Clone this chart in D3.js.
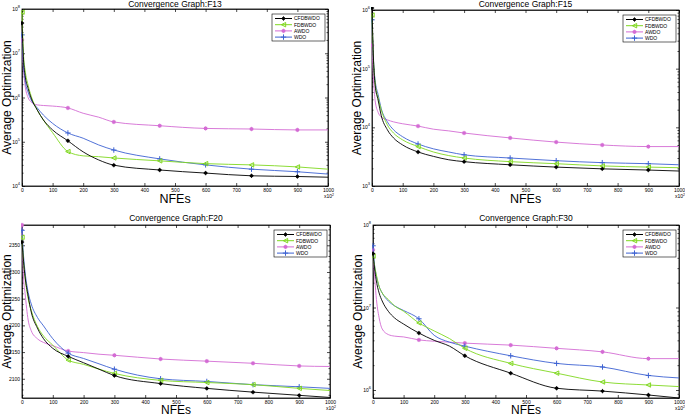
<!DOCTYPE html>
<html><head><meta charset="utf-8">
<script src="https://cdn.jsdelivr.net/npm/d3@7"></script>
<style>body{margin:0;background:#fff}svg{display:block}text{font-family:"Liberation Sans",Arial,sans-serif}</style>
</head><body>
<svg id="c" width="685" height="417"></svg>
<script>
const seriesNames = ["CFDBWDO","FDBWDO","AWDO","WDO"];
const seriesColors = ["#000000","#80d820","#d46cd4","#3d62d2"];
const markerTypes = ["circle","triangle","square","plus"];
const xTicks = [0,100,200,300,400,500,600,700,800,900,1000];
const markerNFEs = [0,150,300,450,600,750,900];
const nfeGrid = [0,5,10,20,30,50,70,100,150,200,250,300,450,600,750,900,1000];

// F13 (log)
const f13Ticks = [1e4,1e5,1e6,1e7,1e8];
const f13CFDBWDO = [4.8e7,7.1e6,3.2e6,1.6e6,9.7e5,5.2e5,3.1e5,1.85e5,1.05e5,5.9e4,3.9e4,2.96e4,2.3e4,1.96e4,1.7e4,1.64e4,1.58e4];
const f13FDBWDO  = [8.5e7,9.1e6,4.2e6,1.9e6,1.07e6,5.2e5,3.1e5,1.6e5,6.0e4,4.8e4,4.6e4,4.3e4,3.7e4,3.2e4,3.0e4,2.7e4,2.4e4];
const f13AWDO    = [2.0e7,4.2e6,1.9e6,1.0e6,7.9e5,6.8e5,6.6e5,6.4e5,5.8e5,4.4e5,3.6e5,2.8e5,2.3e5,2.0e5,1.94e5,1.85e5,1.85e5];
const f13WDO     = [2.6e7,5.4e6,2.5e6,1.3e6,8.8e5,5.8e5,4.0e5,2.6e5,1.58e5,1.2e5,8.5e4,6.5e4,4.1e4,3.0e4,2.4e4,2.1e4,1.86e4];

// F15 (log)
const f15Ticks = [1e3,1e4,1e5,1e6];
const f15CFDBWDO = [1.08e6,1.4e5,5.3e4,2.9e4,1.6e4,9.1e3,6.6e3,5.0e3,3.8e3,3.2e3,2.8e3,2.6e3,2.3e3,2.1e3,1.96e3,1.87e3,1.8e3];
const f15FDBWDO  = [8.2e5,1.3e5,5.9e4,3.2e4,2.0e4,1.1e4,8.0e3,6.1e3,4.7e3,3.8e3,3.3e3,3.0e3,2.6e3,2.4e3,2.2e3,2.1e3,2.05e3];
const f15AWDO    = [2.5e5,6.5e4,2.9e4,1.8e4,1.5e4,1.34e4,1.24e4,1.15e4,1.05e4,9.3e3,8.7e3,8.0e3,6.6e3,5.6e3,5.0e3,4.7e3,4.7e3];
const f15WDO     = [6.8e5,1.3e5,6.5e4,3.6e4,2.1e4,1.24e4,9.1e3,6.9e3,5.2e3,4.3e3,3.8e3,3.4e3,3.0e3,2.7e3,2.5e3,2.4e3,2.3e3];

// F20 (linear)
const f20Ticks = [2100,2150,2200,2250,2300,2350];
const f20CFDBWDO = [2356,2320,2291,2255,2225,2195,2175,2157,2142,2130,2118,2106,2091,2082,2075,2069,2065];
const f20FDBWDO  = [2365,2320,2290,2250,2228,2198,2180,2163,2135,2127,2118,2110,2097,2093,2089,2082,2078];
const f20AWDO    = [2388,2290,2260,2210,2190,2175,2168,2162,2152,2149,2146,2144,2137,2133,2129,2124,2123];
const f20WDO     = [2378,2330,2300,2262,2240,2215,2199,2175,2148,2138,2128,2118,2100,2095,2089,2085,2082];

// F30 (log)
const f30Ticks = [1e6,1e7,1e8];
const f30CFDBWDO = [4.5e7,3.0e7,2.2e7,1.5e7,1.2e7,9.0e6,7.5e6,6.3e6,4.9e6,4.0e6,3.4e6,2.6e6,1.6e6,1.05e6,9.7e5,8.7e5,8.0e5];
const f30FDBWDO  = [4.2e7,3.2e7,2.6e7,1.8e7,1.5e7,1.25e7,1.05e7,9.0e6,6.5e6,5.2e6,4.2e6,3.2e6,2.1e6,1.6e6,1.25e6,1.15e6,1.1e6];
const f30AWDO    = [5.0e7,2.5e7,1.4e7,7.5e6,5.5e6,4.7e6,4.5e6,4.4e6,4.05e6,3.9e6,3.8e6,3.7e6,3.5e6,3.2e6,2.9e6,2.4e6,2.4e6];
const f30WDO     = [5.6e7,3.3e7,2.5e7,1.8e7,1.5e7,1.2e7,1.05e7,9.2e6,7.3e6,4.6e6,3.8e6,3.4e6,2.6e6,2.1e6,1.9e6,1.5e6,1.4e6];

const panels = [
  {title:"Convergence Graph:F13", log:true, domain:[1e4,1e8], ticks:f13Ticks, series:[f13CFDBWDO,f13FDBWDO,f13AWDO,f13WDO], box:[22,9,328,186], xlY:203, tl:2, fs:12.5},
  {title:"Convergence Graph:F15", log:true, domain:[1e3,1e6], ticks:f15Ticks, series:[f15CFDBWDO,f15FDBWDO,f15AWDO,f15WDO], box:[372,10,679,186], xlY:203, tl:3, fs:12.5},
  {title:"Convergence Graph:F20", log:false, domain:[2064,2388], ticks:f20Ticks, series:[f20CFDBWDO,f20FDBWDO,f20AWDO,f20WDO], box:[22,225,330,398], xlY:414, tl:4, fs:12},
  {title:"Convergence Graph:F30", log:true, domain:[8e5,1e8], ticks:f30Ticks, series:[f30CFDBWDO,f30FDBWDO,f30AWDO,f30WDO], box:[373,225,679,398], xlY:414, tl:4, fs:12}
];

const svg = d3.select("#c");

function drawMarker(g, type, x, y, color){
  const s = 2.2;
  if(type==="circle"){
    g.append("circle").attr("cx",x).attr("cy",y).attr("r",1.7).attr("fill",color);
    g.append("path").attr("d",`M${x-s},${y}H${x+s}M${x},${y-s}V${y+s}`).attr("stroke",color).attr("stroke-width",0.8);
  } else if(type==="triangle"){
    g.append("path").attr("d",`M${x-s},${y}L${x+s},${y-s}L${x+s},${y+s}Z`).attr("fill","none").attr("stroke",color).attr("stroke-width",1);
  } else if(type==="square"){
    g.append("rect").attr("x",x-1.6).attr("y",y-1.6).attr("width",3.2).attr("height",3.2).attr("fill",color);
    g.append("path").attr("d",`M${x-s},${y}H${x+s}M${x},${y-s}V${y+s}`).attr("stroke",color).attr("stroke-width",0.8);
  } else {
    g.append("path").attr("d",`M${x-s-0.5},${y}H${x+s+0.5}M${x},${y-s-0.5}V${y+s+0.5}`).attr("stroke",color).attr("stroke-width",1);
  }
}

function supLabel(sel, base, exp){
  sel.text(null);
  sel.append("tspan").text(base);
  sel.append("tspan").attr("dy","-3").attr("font-size","4px").text(exp);
}

panels.forEach((p, pi) => {
  const [x0,y0,x1,y1] = p.box;
  const w = x1-x0, h = y1-y0;
  const g = svg.append("g").attr("transform",`translate(${x0},${y0})`);
  const x = d3.scaleLinear().domain([0,1000]).range([0,w]);
  const y = (p.log ? d3.scaleLog() : d3.scaleLinear()).domain(p.domain).range([h,0]);

  const cid = "clip"+pi;
  g.append("clipPath").attr("id",cid).append("rect").attr("x",-1).attr("y",-3).attr("width",w+2).attr("height",h+4);

  let minors = [];
  if(p.log){
    const lo = Math.floor(Math.log10(p.domain[0])), hi = Math.ceil(Math.log10(p.domain[1]));
    for(let e=lo;e<hi;e++) for(let k=2;k<=9;k++){ const v=k*Math.pow(10,e); if(v>=p.domain[0]&&v<=p.domain[1]) minors.push(v); }
  } else {
    for(let v=Math.ceil(p.domain[0]/10)*10; v<=p.domain[1]; v+=10) if(v%50!==0) minors.push(v);
  }
  const axStyle = a => a.selectAll("path,line").attr("stroke","#000").attr("stroke-width",0.7);

  g.append("g").call(d3.axisLeft(y).tickValues(minors).tickSizeInner(-1.5).tickSizeOuter(0).tickFormat("")).call(axStyle).select(".domain").remove();
  g.append("g").attr("transform",`translate(${w},0)`).call(d3.axisRight(y).tickValues(minors).tickSizeInner(-1.5).tickSizeOuter(0).tickFormat("")).call(axStyle).select(".domain").remove();

  const yl = g.append("g").call(d3.axisLeft(y).tickValues(p.ticks).tickSizeInner(-3).tickSizeOuter(0).tickPadding(2)
      .tickFormat(d => p.log ? String(Math.round(Math.log10(d))) : String(d)));
  axStyle(yl);
  yl.selectAll("text").attr("font-size","5px").attr("fill","#000");
  if(p.log){
    yl.selectAll("text").each(function(d){ supLabel(d3.select(this),"10",String(Math.round(Math.log10(d)))); });
  }
  g.append("g").attr("transform",`translate(${w},0)`).call(d3.axisRight(y).tickValues(p.ticks).tickSizeInner(-3).tickSizeOuter(0).tickFormat("")).call(axStyle);

  const xl = g.append("g").attr("transform",`translate(0,${h})`).call(d3.axisBottom(x).tickValues(xTicks).tickSizeInner(-3).tickSizeOuter(0).tickPadding(2).tickFormat(d3.format("d")));
  axStyle(xl);
  xl.selectAll("text").attr("font-size","5px").attr("fill","#000");
  g.append("g").call(d3.axisTop(x).tickValues(xTicks).tickSizeInner(-3).tickSizeOuter(0).tickFormat("")).call(axStyle);

  g.append("rect").attr("width",w).attr("height",h).attr("fill","none").attr("stroke","#000").attr("stroke-width",0.8);

  const xm = g.append("text").attr("x",w+1).attr("y",h+12).attr("text-anchor","middle").attr("font-size","5px");
  xm.append("tspan").text("x10");
  xm.append("tspan").attr("dy","-2").attr("font-size","3.5px").text("2");

  const line = d3.line().x((d,i)=>x(nfeGrid[i])).y(d=>y(d)).curve(d3.curveMonotoneX);
  const lg = g.append("g").attr("clip-path",`url(#${cid})`);
  [2,3,1,0].forEach(si => {
    const vals = p.series[si];
    lg.append("path").datum(vals).attr("d",line).attr("fill","none").attr("stroke",seriesColors[si]).attr("stroke-width",0.9);
    markerNFEs.forEach(m => {
      const idx = nfeGrid.indexOf(m);
      drawMarker(lg, markerTypes[si], x(m), y(vals[idx]), seriesColors[si]);
    });
  });

  svg.append("text").attr("x",x0+w/2).attr("y",y0-p.tl).attr("text-anchor","middle").attr("font-size","8.5px").text(p.title);
  svg.append("text").attr("x",x0+w/2).attr("y",p.xlY).attr("text-anchor","middle").attr("font-size",p.fs+"px").text("NFEs");
  svg.append("text").attr("transform",`translate(${x0-11},${y0+h/2}) rotate(-90)`).attr("text-anchor","middle").attr("font-size","12px").text("Average Optimization");

  const lw = 53, lh = 27;
  const leg = g.append("g").attr("transform",`translate(${w-lw-3},5)`);
  leg.append("rect").attr("width",lw).attr("height",lh).attr("fill","#fff").attr("stroke","#000").attr("stroke-width",0.6);
  seriesNames.forEach((n,i) => {
    const yy = 4.5 + i*6.2;
    leg.append("line").attr("x1",3).attr("x2",20).attr("y1",yy).attr("y2",yy).attr("stroke",seriesColors[i]).attr("stroke-width",1);
    drawMarker(leg, markerTypes[i], 11.5, yy, seriesColors[i]);
    leg.append("text").attr("x",22).attr("y",yy+1.8).attr("font-size","5px").text(n);
  });
});
</script>
</body></html>
